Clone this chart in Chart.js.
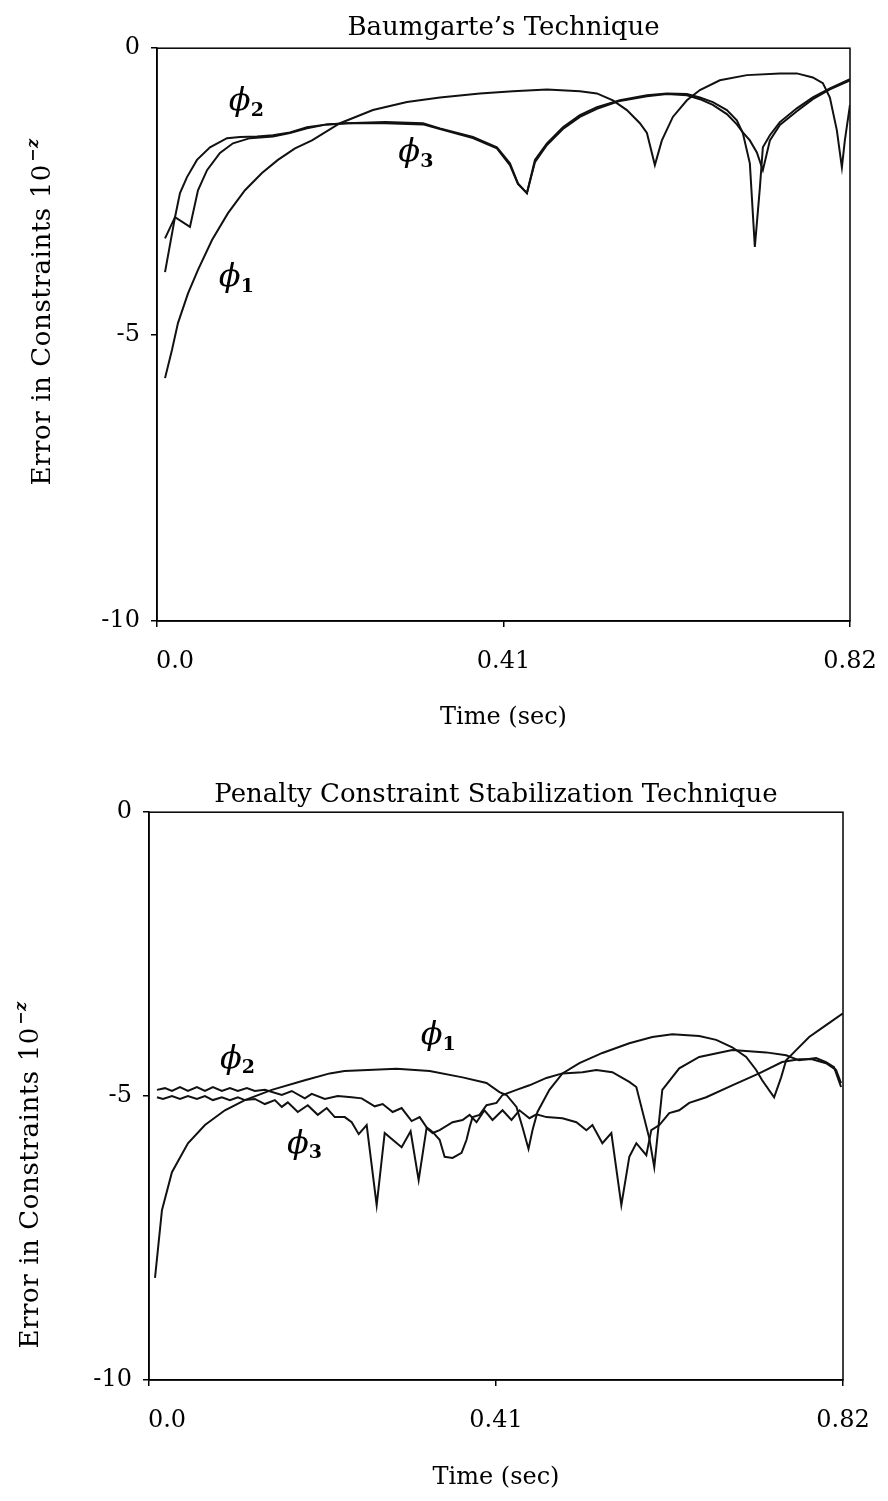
<!DOCTYPE html>
<html>
<head>
<meta charset="utf-8">
<script src="https://cdn.jsdelivr.net/npm/chart.js@4.4.0/dist/chart.umd.min.js"></script>
<style>
  html, body { margin: 0; padding: 0; background: #fff; }
  .box { position: relative; width: 888px; }
</style>
</head>
<body>
<div class="box" style="height:750px"><canvas id="baumgarte"></canvas></div>
<div class="box" style="height:751px"><canvas id="penalty"></canvas></div>
<script>
const SERIF = '"DejaVu Serif", "Liberation Serif", serif'

const xTicks = [0, 0.41, 0.82]
const xTickLabels = ['0.0', '0.41', '0.82']
const yTicks = [-10, -5, 0]

// --- Baumgarte's technique (top) ---
const baumT1 = [0.0095, 0.0177, 0.0248, 0.0367, 0.0485, 0.0651, 0.0840, 0.1041, 0.1242, 0.1431,
    0.1633, 0.1834, 0.2165, 0.2555, 0.2958, 0.3348, 0.3821, 0.4211, 0.4614, 0.5004,
    0.5205, 0.5394, 0.5560, 0.5714, 0.5797, 0.5891, 0.5974, 0.6104, 0.6270, 0.6424,
    0.6660, 0.6980, 0.7370, 0.7571, 0.7760, 0.7879, 0.7962, 0.8044, 0.8104, 0.8139, 0.82]
const baumPhi1 = [-5.76, -5.27, -4.80, -4.28, -3.87, -3.35, -2.88, -2.48, -2.18, -1.95,
    -1.75, -1.61, -1.31, -1.08, -0.94, -0.86, -0.79, -0.75, -0.72, -0.75,
    -0.79, -0.91, -1.08, -1.31, -1.48, -2.04, -1.61, -1.20, -0.91, -0.73,
    -0.56, -0.47, -0.44, -0.44, -0.51, -0.61, -0.86, -1.43, -2.08, -1.61, -0.99]

const baumT2 = [0.0095, 0.0213, 0.0390, 0.0485, 0.0592, 0.0745, 0.0899, 0.1100, 0.1372, 0.1573,
    0.1775, 0.2011, 0.2248, 0.2700, 0.3147, 0.3348, 0.3738, 0.4022, 0.4176, 0.4271, 0.4377,
    0.4472, 0.4614, 0.4803, 0.5004, 0.5205, 0.5477, 0.5797, 0.6033, 0.6270, 0.6424,
    0.6577, 0.6743, 0.6861, 0.6932, 0.7015, 0.7074, 0.7134, 0.7169, 0.7252, 0.7370,
    0.7571, 0.7760, 0.7962, 0.82]
const baumPhi2 = [-3.32, -2.95, -3.12, -2.48, -2.13, -1.83, -1.66, -1.57, -1.54, -1.48,
    -1.40, -1.33, -1.31, -1.29, -1.31, -1.40, -1.55, -1.73, -2.01, -2.36, -2.53,
    -1.95, -1.66, -1.38, -1.17, -1.03, -0.91, -0.82, -0.79, -0.80, -0.86,
    -0.94, -1.08, -1.26, -1.48, -2.01, -3.47, -2.43, -1.73, -1.52, -1.29,
    -1.05, -0.86, -0.70, -0.54]

const baumT3 = [0.0095, 0.0213, 0.0272, 0.0355, 0.0473, 0.0627, 0.0828, 0.0982, 0.1183, 0.1372,
    0.1573, 0.1775, 0.2011, 0.2248, 0.2700, 0.3147, 0.3348, 0.3738, 0.4022, 0.4176, 0.4271,
    0.4377, 0.4472, 0.4614, 0.4803, 0.5004, 0.5205, 0.5477, 0.5797, 0.6033, 0.6270,
    0.6424, 0.6577, 0.6743, 0.6861, 0.6932, 0.7015, 0.7098, 0.7169, 0.7252, 0.7370,
    0.7571, 0.7760, 0.7962, 0.82]
const baumPhi3 = [-3.91, -2.95, -2.53, -2.25, -1.95, -1.73, -1.57, -1.55, -1.54, -1.52,
    -1.47, -1.38, -1.33, -1.31, -1.31, -1.33, -1.41, -1.57, -1.75, -2.04, -2.37,
    -2.53, -1.99, -1.69, -1.41, -1.20, -1.06, -0.92, -0.84, -0.80, -0.82,
    -0.89, -0.99, -1.15, -1.33, -1.47, -1.61, -1.82, -2.13, -1.61, -1.34,
    -1.10, -0.89, -0.72, -0.56]

const baumLabelSub = ['1', '2', '3']
const baumLabelT = [0.0861, 0.0979, 0.2985]
const baumLabelV = [-4.01, -0.94, -1.83]

// --- Penalty constraint stabilization (bottom) ---
const penT1 = [0.0071, 0.0153, 0.0271, 0.0460, 0.0661, 0.0897, 0.1133, 0.1451, 0.1841, 0.2136,
    0.2310, 0.2926, 0.3316, 0.3705, 0.3988, 0.4141, 0.4224, 0.4342, 0.4413, 0.4484,
    0.4531, 0.4590, 0.4731, 0.4885, 0.5085, 0.5357, 0.5675, 0.5947, 0.6183, 0.6501,
    0.6702, 0.6891, 0.7056, 0.7174, 0.7245, 0.7386, 0.7469, 0.7528, 0.7646, 0.7800,
    0.8000, 0.82]
const penPhi1 = [-8.20, -7.01, -6.34, -5.83, -5.51, -5.25, -5.07, -4.89, -4.72, -4.60,
    -4.56, -4.52, -4.56, -4.67, -4.77, -4.93, -4.98, -5.19, -5.55, -5.93,
    -5.60, -5.28, -4.89, -4.60, -4.42, -4.24, -4.07, -3.96, -3.91, -3.94,
    -4.01, -4.14, -4.31, -4.54, -4.72, -5.02, -4.67, -4.37, -4.19, -3.96,
    -3.75, -3.54]

const penT2 = [0.0094, 0.0189, 0.0271, 0.0366, 0.0460, 0.0566, 0.0661, 0.0755, 0.0861, 0.0956,
    0.1050, 0.1156, 0.1251, 0.1369, 0.1569, 0.1687, 0.1841, 0.1923, 0.2077, 0.2230,
    0.2395, 0.2513, 0.2667, 0.2761, 0.2879, 0.2985, 0.3103, 0.3198, 0.3280, 0.3351,
    0.3434, 0.3493, 0.3587, 0.3693, 0.3752, 0.3788, 0.3823, 0.3906, 0.3988, 0.4106,
    0.4177, 0.4342, 0.4495, 0.4696, 0.4885, 0.5121, 0.5286, 0.5475, 0.5675, 0.5758,
    0.5911, 0.5970, 0.6065, 0.6265, 0.6501, 0.6891, 0.7292, 0.7528, 0.7681, 0.7882,
    0.8000, 0.8094, 0.8177]
const penPhi2 = [-4.89, -4.86, -4.91, -4.84, -4.91, -4.84, -4.91, -4.84, -4.91, -4.86,
    -4.91, -4.86, -4.91, -4.89, -4.98, -4.91, -5.04, -4.96, -5.05, -5.00,
    -5.02, -5.04, -5.18, -5.14, -5.28, -5.21, -5.44, -5.37, -5.55, -5.63,
    -5.77, -6.07, -6.09, -6.00, -5.77, -5.55, -5.37, -5.33, -5.16, -5.12,
    -4.98, -4.89, -4.81, -4.68, -4.60, -4.58, -4.54, -4.58, -4.75, -4.84,
    -5.74, -6.25, -4.89, -4.51, -4.31, -4.19, -4.23, -4.28, -4.37, -4.33,
    -4.40, -4.49, -4.84]

const penT3 = [0.0094, 0.0165, 0.0271, 0.0366, 0.0460, 0.0566, 0.0661, 0.0755, 0.0861, 0.0956,
    0.1050, 0.1133, 0.1251, 0.1369, 0.1487, 0.1569, 0.1640, 0.1758, 0.1876, 0.1994,
    0.2100, 0.2195, 0.2313, 0.2395, 0.2478, 0.2572, 0.2690, 0.2785, 0.2879, 0.2985,
    0.3091, 0.3186, 0.3280, 0.3351, 0.3434, 0.3587, 0.3705, 0.3788, 0.3870, 0.3964,
    0.4059, 0.4177, 0.4283, 0.4377, 0.4495, 0.4578, 0.4696, 0.4885, 0.5050, 0.5168,
    0.5239, 0.5357, 0.5463, 0.5581, 0.5675, 0.5758, 0.5876, 0.5935, 0.6030, 0.6147,
    0.6265, 0.6383, 0.6584, 0.6891, 0.7209, 0.7481, 0.7681, 0.7835, 0.8000, 0.8118,
    0.8177]
const penPhi3 = [-5.02, -5.05, -5.00, -5.05, -5.00, -5.05, -5.00, -5.07, -5.02, -5.07,
    -5.02, -5.07, -5.05, -5.14, -5.07, -5.19, -5.11, -5.28, -5.16, -5.33,
    -5.21, -5.37, -5.37, -5.46, -5.67, -5.51, -6.92, -5.65, -5.77, -5.90,
    -5.62, -6.48, -5.56, -5.65, -5.60, -5.46, -5.42, -5.33, -5.46, -5.25,
    -5.42, -5.25, -5.42, -5.25, -5.39, -5.32, -5.37, -5.39, -5.46, -5.60,
    -5.51, -5.83, -5.65, -6.92, -6.07, -5.83, -6.04, -5.60, -5.51, -5.30,
    -5.25, -5.12, -5.02, -4.81, -4.60, -4.40, -4.35, -4.35, -4.42, -4.54,
    -4.77]

const penLabelSub = ['1', '2', '3']
const penLabelT = [0.3339, 0.0968, 0.1758]
const penLabelV = [-3.94, -4.35, -5.85]

function series(ts, vs) {
    return {
        data: ts.map((t, i) => ({ x: t, y: vs[i] })),
        borderColor: '#111',
        borderWidth: 2,
        pointRadius: 0,
        tension: 0,
        fill: false,
    }
}

// box round the plot area
const frame = {
    id: 'frame',
    beforeDatasetsDraw(chart) {
        const { ctx, chartArea: a } = chart
        ctx.save()
        ctx.strokeStyle = '#000'
        ctx.lineWidth = 1.5
        ctx.strokeRect(a.left, a.top, a.right - a.left, a.bottom - a.top)
        ctx.restore()
    }
}

// phi_n labels placed in data units
function phiLabels(subs, ts, vs) {
    return {
        id: 'phiLabels',
        afterDatasetsDraw(chart) {
            const { ctx, scales } = chart
            ctx.save()
            ctx.fillStyle = '#000'
            subs.forEach((s, i) => {
                const px = scales.x.getPixelForValue(ts[i])
                const py = scales.y.getPixelForValue(vs[i])
                ctx.font = 'italic 32px ' + SERIF
                ctx.textAlign = 'center'
                ctx.textBaseline = 'middle'
                ctx.fillText('\u03D5', px, py)
                const w = ctx.measureText('\u03D5').width
                ctx.font = 'bold 19px ' + SERIF
                ctx.textAlign = 'left'
                ctx.fillText(s, px + w / 2, py + 9)
            })
            ctx.restore()
        }
    }
}

// rotated y title with the 10^-z superscript
function yTitle(cx, cy) {
    return {
        id: 'yTitle',
        afterDraw(chart) {
            const ctx = chart.ctx
            const main = 'Error in Constraints 10'
            const sup = '\u2212z'
            ctx.save()
            ctx.translate(cx, cy)
            ctx.rotate(-Math.PI / 2)
            ctx.fillStyle = '#000'
            ctx.textAlign = 'left'
            ctx.textBaseline = 'alphabetic'
            ctx.letterSpacing = '0.6px'
            ctx.font = '26px ' + SERIF
            const w1 = ctx.measureText(main).width
            ctx.font = 'bold italic 16px ' + SERIF
            const w2 = ctx.measureText(sup).width
            const x0 = -(w1 + w2 + 2) / 2
            ctx.font = '26px ' + SERIF
            ctx.fillText(main, x0, 9)
            ctx.font = 'bold italic 16px ' + SERIF
            ctx.fillText(sup, x0 + w1 + 2, -3)
            ctx.restore()
        }
    }
}

function makeChart(id, p) {
    const axisFont = { family: SERIF, size: 24 }
    return new Chart(document.getElementById(id), {
        type: 'line',
        data: { datasets: p.datasets },
        plugins: [frame, phiLabels(p.subs, p.labelT, p.labelV), yTitle(p.yTitleX, p.yTitleY)],
        options: {
            responsive: true,
            maintainAspectRatio: false,
            animation: false,
            events: [],
            layout: { padding: { left: 0, right: p.padRight, top: 0, bottom: 0 } },
            plugins: {
                legend: { display: false },
                tooltip: { enabled: false },
                title: {
                    display: true,
                    fullSize: false,
                    text: p.title,
                    color: '#000',
                    font: { family: SERIF, size: 26, weight: 'normal' },
                    padding: { top: p.titleTop, bottom: p.titleBottom },
                },
            },
            scales: {
                x: {
                    type: 'linear',
                    min: 0,
                    max: 0.82,
                    afterBuildTicks: s => { s.ticks = xTicks.map(v => ({ value: v })) },
                    afterFit: s => { s.height = p.xHeight; s.paddingLeft = 0; s.paddingRight = 0 },
                    ticks: {
                        color: '#000',
                        font: axisFont,
                        padding: p.xTickPad,
                        maxRotation: 0,
                        autoSkip: false,
                        // first label sits a little right of the axis in the original
                        callback: v => (v === 0 ? '\u2002\u2002\u2002' : '') + xTickLabels[xTicks.indexOf(v)],
                    },
                    grid: { drawOnChartArea: false, drawTicks: true, tickLength: 6, color: '#000', lineWidth: 1.5 },
                    border: { color: '#000', width: 1.5 },
                    title: {
                        display: true,
                        text: 'Time (sec)',
                        color: '#000',
                        font: axisFont,
                        padding: { top: 0, bottom: p.xTitlePad },
                    },
                },
                y: {
                    min: -10,
                    max: 0,
                    afterBuildTicks: s => { s.ticks = yTicks.map(v => ({ value: v })) },
                    afterFit: s => { s.width = p.yWidth },
                    ticks: {
                        color: '#000',
                        font: axisFont,
                        padding: 11,
                        callback: v => String(v),
                    },
                    grid: { drawOnChartArea: false, drawTicks: true, tickLength: 6, color: '#000', lineWidth: 1.5 },
                    border: { color: '#000', width: 1.5 },
                },
            },
        },
    })
}

makeChart('baumgarte', {
    title: 'Baumgarte\u2019s Technique',
    datasets: [series(baumT1, baumPhi1), series(baumT2, baumPhi2), series(baumT3, baumPhi3)],
    subs: baumLabelSub, labelT: baumLabelT, labelV: baumLabelV,
    padRight: 38, yWidth: 157,
    titleTop: 13, titleBottom: 4,
    xHeight: 129, xTickPad: 20, xTitlePad: 18,
    yTitleX: 41, yTitleY: 312,
})

makeChart('penalty', {
    title: 'Penalty Constraint Stabilization Technique',
    datasets: [series(penT1, penPhi1), series(penT2, penPhi2), series(penT3, penPhi3)],
    subs: penLabelSub, labelT: penLabelT, labelV: penLabelV,
    padRight: 45, yWidth: 149,
    titleTop: 30, titleBottom: 1,
    xHeight: 121, xTickPad: 20, xTitlePad: 9,
    yTitleX: 29, yTitleY: 425,
})
</script>
</body>
</html>
